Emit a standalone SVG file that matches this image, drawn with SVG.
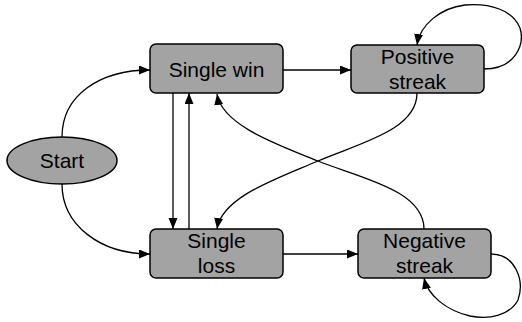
<svg xmlns="http://www.w3.org/2000/svg" width="522" height="322" viewBox="0 0 522 322">
<style>
.node{fill:#a3a3a3;stroke:#000;stroke-width:1.5}
.lbl{font-family:"Liberation Sans",Arial,sans-serif;font-size:21px;fill:#000;text-anchor:middle}
.edge{fill:none;stroke:#000;stroke-width:1.3;marker-end:url(#arr)}
</style>
<defs>
<marker id="arr" markerUnits="userSpaceOnUse" markerWidth="12" markerHeight="10" refX="11" refY="4.5" orient="auto">
<path d="M0,0 L11,4.5 L0,9 z" fill="#000"/>
</marker>
</defs>
<g id="connectors">
<path class="edge" d="M62,137 C62,95 100,70 150,70"/>
<path class="edge" d="M62,184 C62,225 100,254 150,254"/>
<path class="edge" d="M173,93 L173,229"/>
<path class="edge" d="M189,229 L189,93"/>
<path class="edge" d="M283,70 L351,70"/>
<path class="edge" d="M283,254 L358,254"/>
<path class="edge" d="M424,229 C424,190 360,178 318,161 C276,144 222,125 217,94"/>
<path class="edge" d="M417,93 C417,130 360,143 318,161 C276,179 222,197 217,229"/>
<path class="edge" d="M484,69 C515,69 525,45 520,28 C513,10 490,3 465,5 C440,8 420,25 417,45"/>
<path class="edge" d="M491,254 C515,254 525,280 518,300 C510,315 490,320 470,316 C445,310 428,295 424,278"/>
</g>
<g id="start">
<ellipse class="node" cx="62" cy="160.5" rx="55" ry="23.5"/>
<text class="lbl" x="62" y="168">Start</text>
</g>
<g id="single-win">
<rect class="node" x="150" y="44" width="133" height="49" rx="6"/>
<text class="lbl" x="216.5" y="77">Single win</text>
</g>
<g id="positive-streak">
<rect class="node" x="351" y="45" width="133" height="48" rx="6"/>
<text class="lbl" x="417.5" y="64">Positive</text>
<text class="lbl" x="417.5" y="89">streak</text>
</g>
<g id="single-loss">
<rect class="node" x="150" y="229" width="133" height="49" rx="6"/>
<text class="lbl" x="216.5" y="248">Single</text>
<text class="lbl" x="216.5" y="273">loss</text>
</g>
<g id="negative-streak">
<rect class="node" x="358" y="229" width="133" height="49" rx="6"/>
<text class="lbl" x="424.5" y="248">Negative</text>
<text class="lbl" x="424.5" y="273">streak</text>
</g>
</svg>
